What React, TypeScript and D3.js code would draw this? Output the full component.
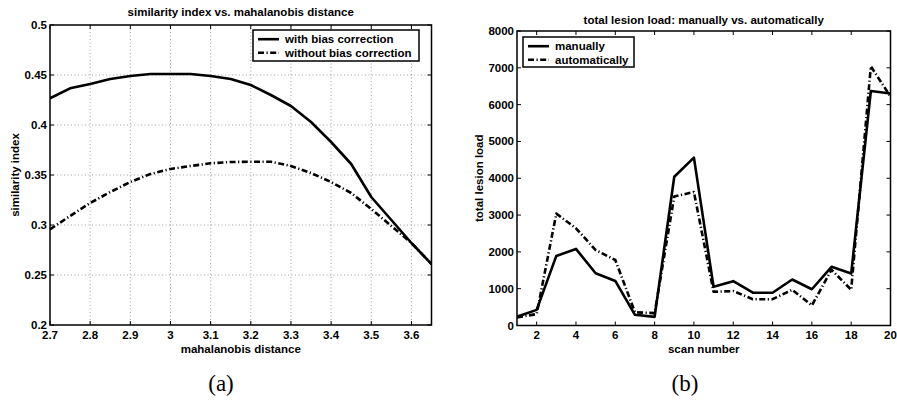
import React from "react";
import * as d3 from "d3";

// ---- Panel (a) data ----
const mahalDist = [2.7, 2.75, 2.8, 2.85, 2.9, 2.95, 3.0, 3.05, 3.1, 3.15, 3.2, 3.25, 3.3, 3.35, 3.4, 3.45, 3.5, 3.55, 3.6, 3.65];
const withBias = [0.4267, 0.4367, 0.441, 0.446, 0.449, 0.451, 0.451, 0.451, 0.449, 0.446, 0.44, 0.43, 0.419, 0.403, 0.383, 0.361, 0.328, 0.305, 0.282, 0.261];
const withoutBias = [0.2957, 0.309, 0.322, 0.333, 0.343, 0.351, 0.356, 0.359, 0.3617, 0.363, 0.3633, 0.3633, 0.359, 0.352, 0.343, 0.332, 0.316, 0.299, 0.282, 0.261];
const xTicksA = [2.7, 2.8, 2.9, 3, 3.1, 3.2, 3.3, 3.4, 3.5, 3.6];
const yTicksA = [0.2, 0.25, 0.3, 0.35, 0.4, 0.45, 0.5];
const legendA = ["with bias correction", "without bias correction"];

// ---- Panel (b) data ----
const scanNumber = [1, 2, 3, 4, 5, 6, 7, 8, 9, 10, 11, 12, 13, 14, 15, 16, 17, 18, 19, 20];
const manually = [240, 425, 1890, 2080, 1420, 1210, 290, 235, 4040, 4560, 1050, 1205, 890, 890, 1250, 985, 1595, 1410, 6370, 6300];
const automatically = [220, 310, 3040, 2640, 2050, 1780, 360, 335, 3505, 3625, 915, 935, 715, 715, 970, 545, 1515, 970, 7040, 6220];
const xTicksB = [2, 4, 6, 8, 10, 12, 14, 16, 18, 20];
const yTicksB = [0, 1000, 2000, 3000, 4000, 5000, 6000, 7000, 8000];
const legendB = ["manually", "automatically"];

const FONT = "'Liberation Sans', Arial, Helvetica, sans-serif";
const DASHDOT = "6 2.5 1.2 2.5";

type PanelProps = {
  x0: number; x1: number; y0: number; y1: number;
  xDomain: [number, number]; yDomain: [number, number];
  xTicks: number[]; yTicks: number[];
  xFmt: (v: number) => string; yFmt: (v: number) => string;
  xs: number[]; solid: number[]; dashed: number[];
  grid: boolean; title: string; titleY: number; xLabel: string; yLabel: string; yLabelX: number;
  legend: string[]; legBox: [number, number, number, number];
  clipId: string;
};

function Panel(p: PanelProps) {
  const x = d3.scaleLinear().domain(p.xDomain).range([p.x0, p.x1]);
  const y = d3.scaleLinear().domain(p.yDomain).range([p.y1, p.y0]);
  const line = d3.line<number>().x((_, i) => x(p.xs[i])).y((d) => y(d));
  const [lx0, ly0, lx1, ly1] = p.legBox;
  const tl = 4;
  const r1 = ly0 + 13.2;
  const r2 = ly0 + 26.7;
  return (
    <g>
      <defs>
        <clipPath id={p.clipId}>
          <rect x={p.x0} y={p.y0} width={p.x1 - p.x0} height={p.y1 - p.y0} />
        </clipPath>
      </defs>
      {p.grid && (
        <g stroke="#8a8a8a" strokeWidth={0.8} strokeDasharray="1 2.5">
          {p.xTicks.filter((t) => x(t) > p.x0 + 1 && x(t) < p.x1 - 1).map((t) => (
            <line key={"gx" + t} x1={x(t)} x2={x(t)} y1={p.y0} y2={p.y1} />
          ))}
          {p.yTicks.filter((t) => y(t) > p.y0 + 1 && y(t) < p.y1 - 1).map((t) => (
            <line key={"gy" + t} y1={y(t)} y2={y(t)} x1={p.x0} x2={p.x1} />
          ))}
        </g>
      )}
      <g clipPath={`url(#${p.clipId})`} fill="none" stroke="#000" strokeWidth={2.6} strokeLinejoin="round">
        <path d={line(p.dashed) || ""} strokeDasharray={DASHDOT} />
        <path d={line(p.solid) || ""} />
      </g>
      {/* ticks */}
      <g stroke="#000" strokeWidth={1}>
        {p.xTicks.map((t) => (
          <g key={"tx" + t}>
            <line x1={x(t)} x2={x(t)} y1={p.y1} y2={p.y1 - tl} />
            <line x1={x(t)} x2={x(t)} y1={p.y0} y2={p.y0 + tl} />
          </g>
        ))}
        {p.yTicks.map((t) => (
          <g key={"ty" + t}>
            <line x1={p.x0} x2={p.x0 + tl} y1={y(t)} y2={y(t)} />
            <line x1={p.x1} x2={p.x1 - tl} y1={y(t)} y2={y(t)} />
          </g>
        ))}
      </g>
      <rect x={p.x0} y={p.y0} width={p.x1 - p.x0} height={p.y1 - p.y0} fill="none" stroke="#000" strokeWidth={1.5} />
      <g fontFamily={FONT} fontWeight="bold" fontSize={11.5} fill="#000">
        {p.xTicks.map((t) => (
          <text key={"lx" + t} x={x(t)} y={p.y1 + 13.5} textAnchor="middle">{p.xFmt(t)}</text>
        ))}
        {p.yTicks.map((t) => (
          <text key={"ly" + t} x={p.x0 - 3} y={y(t) + 4} textAnchor="end">{p.yFmt(t)}</text>
        ))}
        <text x={(p.x0 + p.x1) / 2} y={p.titleY} textAnchor="middle">{p.title}</text>
        <text x={(p.x0 + p.x1) / 2} y={p.y1 + 27.5} textAnchor="middle">{p.xLabel}</text>
        <text transform={`translate(${p.yLabelX},${(p.y0 + p.y1) / 2}) rotate(-90)`} textAnchor="middle">{p.yLabel}</text>
      </g>
      {/* legend */}
      <rect x={lx0} y={ly0} width={lx1 - lx0} height={ly1 - ly0} fill="#fff" />
      <g fill="none" stroke="#000" strokeWidth={2.6}>
        <line x1={lx0 + 5} x2={lx0 + 26} y1={r1 - 4} y2={r1 - 4} />
        <line x1={lx0 + 5} x2={lx0 + 26} y1={r2 - 4} y2={r2 - 4} strokeDasharray={DASHDOT} />
      </g>
      <g fontFamily={FONT} fontWeight="bold" fontSize={11.5} fill="#000">
        <text x={lx0 + 32} y={r1}>{p.legend[0]}</text>
        <text x={lx0 + 32} y={r2}>{p.legend[1]}</text>
      </g>
      <rect x={lx0} y={ly0} width={lx1 - lx0} height={ly1 - ly0} fill="none" stroke="#000" strokeWidth={1.5} />
    </g>
  );
}

export default function App() {
  const fmtA = (v: number) => (v === 3 ? "3" : String(+v.toFixed(2)));
  return (
    <svg width={897} height={400} style={{ position: "absolute", left: 0, top: 0, background: "#fff" }}>
      <rect width={897} height={400} fill="#fff" />
      <Panel
        x0={50} x1={431.5} y0={25} y1={325}
        xDomain={[2.7, 3.65]} yDomain={[0.2, 0.5]}
        xTicks={xTicksA} yTicks={yTicksA}
        xFmt={fmtA} yFmt={(v) => String(+v.toFixed(2))}
        xs={mahalDist} solid={withBias} dashed={withoutBias}
        grid={true}
        title="similarity index vs. mahalanobis distance" titleY={16}
        xLabel="mahalanobis distance" yLabel="similarity index" yLabelX={19}
        legend={legendA} legBox={[253, 30, 419, 61]}
        clipId="clipA"
      />
      <Panel
        x0={517} x1={890.5} y0={31} y1={325.5}
        xDomain={[1, 20]} yDomain={[0, 8000]}
        xTicks={xTicksB} yTicks={yTicksB}
        xFmt={(v) => String(v)} yFmt={(v) => String(v)}
        xs={scanNumber} solid={manually} dashed={automatically}
        grid={false}
        title="total lesion load: manually vs. automatically" titleY={24}
        xLabel="scan number" yLabel="total lesion load" yLabelX={483}
        legend={legendB} legBox={[523, 37, 634, 67]}
        clipId="clipB"
      />
      <g fontFamily="'Liberation Serif', 'DejaVu Serif', serif" fontSize={23} fill="#000">
        <text x={221} y={391} textAnchor="middle">(a)</text>
        <text x={685} y={391} textAnchor="middle">(b)</text>
      </g>
    </svg>
  );
}
